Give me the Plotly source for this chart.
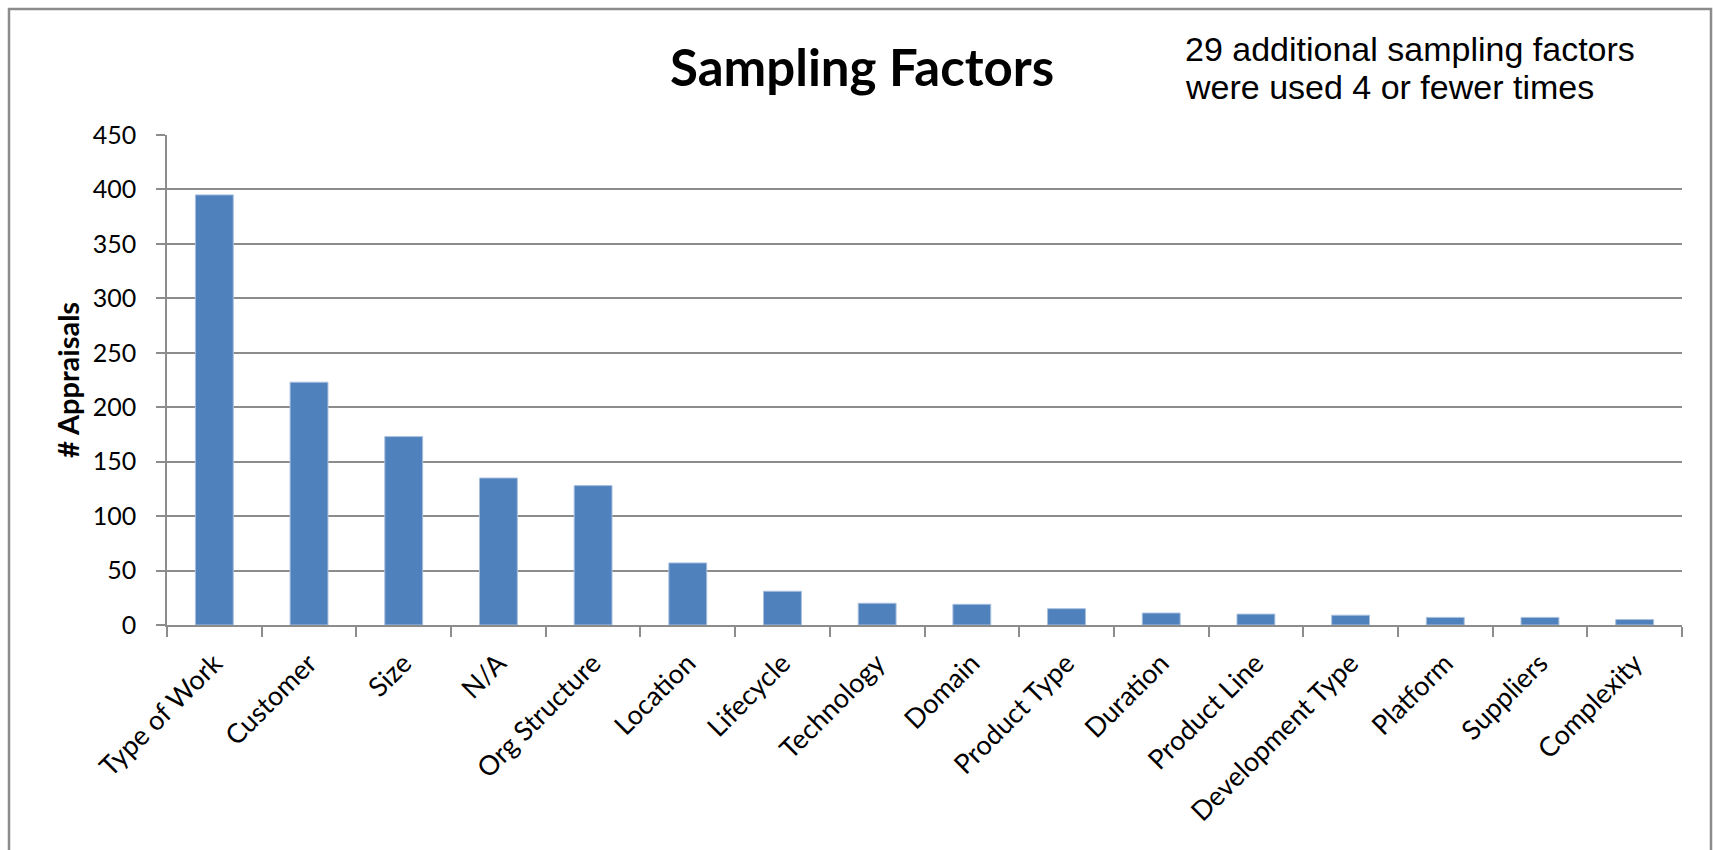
import plotly.graph_objects as go

# Sampling factor usage counts across appraisals
factors = ["Type of Work", "Customer", "Size", "N/A", "Org Structure", "Location",
           "Lifecycle", "Technology", "Domain", "Product Type", "Duration",
           "Product Line", "Development Type", "Platform", "Suppliers", "Complexity"]
appraisals = [395, 223, 173, 135, 128, 57, 31, 20, 19, 15, 11, 10, 9, 7, 7, 5]

y_ticks = [0, 50, 100, 150, 200, 250, 300, 350, 400, 450]

note_lines = ["29 additional sampling factors", "were used 4 or fewer times"]

W, H = 1713, 850
ML, MR, MT, MB = 167, 31, 135, 225
PW, PH = W - ML - MR, H - MT - MB


def px(x):
    return (x - ML) / PW


def py(y):
    return (H - MB - y) / PH


GRID = "#8c8c8c"
FONT = "Lato"

fig = go.Figure()
fig.add_trace(go.Bar(
    x=factors,
    y=appraisals,
    marker=dict(color="#4F81BD", line=dict(color="#a9c0de", width=1)),
    width=0.4,
))

fig.update_layout(
    width=W, height=H,
    margin=dict(l=ML, r=MR, t=MT, b=MB),
    paper_bgcolor="white",
    plot_bgcolor="white",
    showlegend=False,
    font=dict(family=FONT, color="#000000"),
)

fig.update_xaxes(
    type="category",
    showline=True, linecolor=GRID, linewidth=1.5,
    ticks="outside", tickson="boundaries", ticklen=10, tickcolor=GRID, tickwidth=1.5,
    tickangle=-45, ticklabelstandoff=10,
    tickfont=dict(family=FONT, size=27, color="#000000"),
    showgrid=False,
)
fig.update_yaxes(
    range=[0, 450],
    tickvals=y_ticks,
    showline=True, linecolor=GRID, linewidth=1.5,
    ticks="outside", ticklen=9, tickcolor=GRID, tickwidth=1.5,
    ticklabelstandoff=15,
    tickfont=dict(family=FONT, size=25, color="#000000"),
    showgrid=True, gridcolor=GRID, gridwidth=1.5,
    zeroline=False,
)

# Chart title
fig.add_annotation(
    text="<b>Sampling Factors</b>",
    xref="paper", yref="paper",
    x=px(862), y=py(66), xanchor="center", yanchor="middle",
    showarrow=False,
    font=dict(family=FONT, size=51, color="#000000"),
)

# Vertical axis title
fig.add_annotation(
    text="<b># Appraisals</b>",
    xref="paper", yref="paper",
    x=px(67), y=0.5, xanchor="center", yanchor="middle",
    textangle=-90, showarrow=False,
    font=dict(family=FONT, size=29, color="#000000"),
)

# Note about rarely used factors, one annotation per line for tight spacing
for i, line in enumerate(note_lines):
    fig.add_annotation(
        text=line,
        xref="paper", yref="paper",
        x=px(1183), y=py(49 + 37.5 * i), xanchor="left", yanchor="middle",
        align="left", showarrow=False,
        font=dict(family="Liberation Sans", size=34, color="#000000"),
    )

# Chart area frame
fig.add_shape(
    type="rect", xref="paper", yref="paper",
    x0=px(9), x1=px(1711), y0=py(860), y1=py(9),
    line=dict(color="#8c8c8c", width=2.5),
    fillcolor="rgba(0,0,0,0)", layer="below",
)

fig.write_html("out.html")
